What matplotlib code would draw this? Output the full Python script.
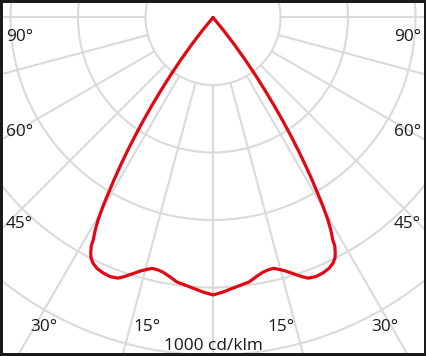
import numpy as np
import matplotlib
matplotlib.use("Agg")
import matplotlib.pyplot as plt
from matplotlib.patches import Rectangle

# ---- data ----
gamma_deg = [0.0, 2.09, 4.23, 5.98, 7.75, 9.41, 11.11, 12.53, 13.66, 14.89,
             16.06, 17.35, 18.77, 20.03, 21.68, 23.29, 24.81, 26.05, 26.90, 27.44,
             28.06, 28.29, 28.99, 29.58, 30.30, 30.90, 31.37, 32.03, 32.71, 33.39,
             34.08, 34.79, 35.55, 36.37, 37.24, 38.21, 39.36, 41.0]
intensity = [822, 814, 804, 797, 791, 779, 769, 765, 765, 773,
             782, 795, 810, 822, 826, 824, 819, 810, 799, 786,
             767, 749, 720, 690, 643, 596, 564, 516, 467, 417,
             367, 316, 264, 212, 158, 104, 48, 0]
ring_values = [200, 400, 600, 800, 1000, 1200]
ray_angles = list(range(0, 360, 15))
left_labels = ["90°", "60°", "45°"]
bottom_labels = ["30°", "15°", "15°", "30°"]
unit_label = "1000 cd/klm"

# ---- figure ----
W, H = 427, 356
fig = plt.figure(figsize=(W / 100, H / 100), dpi=100)
fig.patch.set_facecolor("white")

cx, cy = 213.0, 17.5          # pixel centre of the diagram (from top-left)
px_per_unit = 67.5 / 200.0    # pixels per cd/klm
rmax = 1400
R = rmax * px_per_unit
ax = fig.add_axes([(cx - R) / W, (H - cy - R) / H, 2 * R / W, 2 * R / H],
                  projection="polar")
ax.set_theta_zero_location("S")
ax.set_theta_direction(1)
ax.set_ylim(0, rmax)
ax.set_facecolor("white")
ax.spines["polar"].set_visible(False)

grid_color = "#dadada"
ax.set_rgrids(ring_values, labels=[""] * len(ring_values))
ax.set_thetagrids([], labels=[])
ax.xaxis.grid(False)
ax.yaxis.grid(True, color=grid_color, linewidth=1.5)
ax.tick_params(length=0)

for a in ray_angles:
    t = np.deg2rad(a)
    ax.plot([t, t], [ring_values[0], rmax], color=grid_color, lw=1.5,
            solid_capstyle="butt", zorder=1)

# curve: mirror the half-plane data
g = np.array(gamma_deg)
I = np.array(intensity)
theta = np.deg2rad(np.concatenate([-g[::-1], g[1:]]))
rr = np.concatenate([I[::-1], I[1:]])
ax.plot(theta, rr, color="#e30613", lw=2.3, solid_joinstyle="round",
        solid_capstyle="round", zorder=5)

# ---- labels ----
tc = "#1a1a1a"
fs = 12.4
fam = ["Open Sans", "DejaVu Sans"]
def ftext(x, y, s, ha):
    fig.text(x / W, 1 - y / H, s, ha=ha, va="baseline", fontsize=fs,
             color=tc, family=fam)

for s, yb in zip(left_labels, [41, 136, 227.5]):
    ftext(6, yb, s, "left")
    ftext(421, yb, s, "right")
for s, xc in zip(bottom_labels, [43.5, 147, 280.5, 384.5]):
    ftext(xc, 331, s, "center")
ftext(213.5, 350, unit_label, "center")

# ---- frame ----
fig.add_artist(Rectangle((0, 0), 1, 1, transform=fig.transFigure, fill=False,
                         edgecolor="#1a1a1a", linewidth=4.3, zorder=10))

fig.savefig("out.png", dpi=100)
